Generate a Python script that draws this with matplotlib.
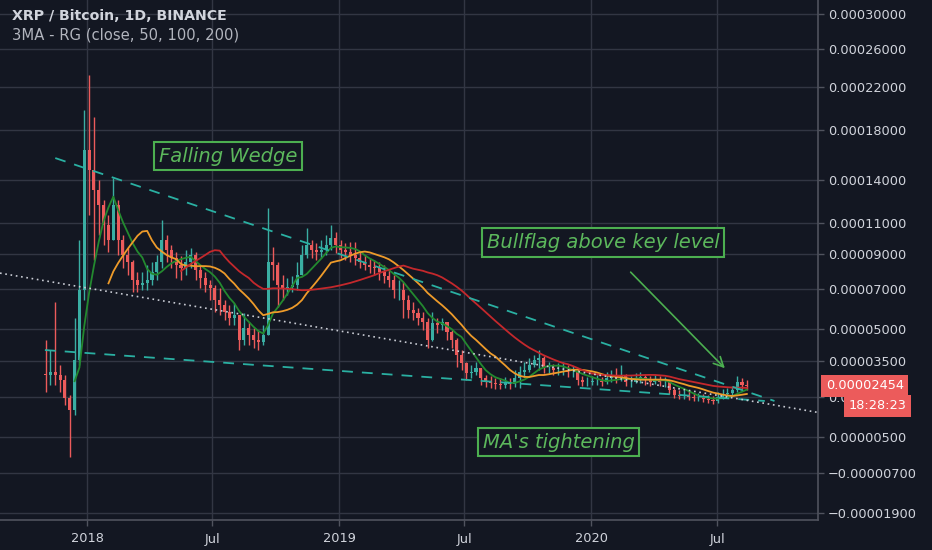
import numpy as np
import pandas as pd
import matplotlib
matplotlib.use("Agg")
import matplotlib.pyplot as plt
import matplotlib.dates as mdates
import matplotlib.transforms as mtransforms
from matplotlib.ticker import FuncFormatter
from datetime import date, timedelta

SAT = 1e-8  # prices below are in satoshi

# weekly candles (XRP/BTC), week starting monday
first_week = date(2017, 10, 30)
first_open = 2950
close_sat = [2890, 3016, 2890, 2680, 1958, 1490, 3540, 6970, 16350, 14760,
             13260, 12200, 10850, 9880, 12200, 9880, 8970, 8550, 7520, 7245,
             7355, 7520, 7970, 8550, 9880, 9270, 8790, 8375, 8200, 8550,
             8970, 8080, 7630, 7245, 7080, 6430, 6170, 5810, 5510, 5660,
             4450, 5020, 4685, 4450, 4360, 4685, 8550, 8375, 7245, 7080,
             7135, 7245, 7800, 8970, 9575, 9270, 9150, 9270, 9575, 10010,
             9575, 9270, 9150, 8970, 8790, 8550, 8375, 8255, 8200, 7970,
             7745, 7520, 6970, 6970, 6430, 5910, 5760, 5510, 5310, 4450,
             5260, 5165, 5310, 4825, 4450, 3765, 3408, 2974, 3016, 3191,
             2764, 2598, 2557, 2516, 2475, 2557, 2516, 2764, 3016, 3100,
             3320, 3540, 3630, 3191, 3191, 3100, 3100, 3100, 3016, 3016,
             2680, 2598, 2598, 2639, 2639, 2598, 2764, 2848, 2764, 2890,
             2598, 2598, 2764, 2806, 2680, 2598, 2680, 2598, 2598, 2270,
             2075, 2036, 2036, 1997, 1958, 1958, 1919, 1880, 1841, 1997,
             2114, 2153, 2270, 2598, 2475, 2454]
high_sat = [4450, 3990, 6330, 3320, 2890, 2075, 5510, 9880, 19820, 23200,
            19180, 14010, 12550, 11510, 14160, 12550, 10200, 9390, 8670, 7970,
            7970, 8375, 8550, 8970, 11180, 10200, 9575, 9150, 8910, 9270,
            9390, 9150, 8375, 7970, 7520, 7245, 7080, 6430, 6170, 6275,
            5660, 5760, 5310, 5020, 4920, 5165, 11990, 9450, 8550, 7800,
            7630, 7745, 8550, 9575, 10650, 9880, 9700, 9880, 10200, 10850,
            10390, 9880, 9700, 9760, 9760, 9150, 8970, 8790, 8670, 8550,
            8375, 8080, 7800, 7520, 7410, 6700, 6325, 6015, 5810, 5510,
            5810, 5510, 5510, 5310, 4920, 4545, 3990, 3452, 3320, 3452,
            3191, 2890, 2848, 2764, 2764, 2806, 2764, 3100, 3277, 3452,
            3630, 3765, 3990, 3700, 3452, 3364, 3408, 3452, 3320, 3277,
            3191, 2848, 2806, 2848, 2890, 2806, 3016, 3100, 3191, 3320,
            2932, 2848, 2974, 3016, 2890, 2848, 2890, 2848, 2806, 2680,
            2352, 2270, 2270, 2231, 2153, 2153, 2114, 2075, 2036, 2192,
            2311, 2352, 2434, 2848, 2764, 2680]
low_sat = [2192, 2475, 2475, 2192, 1685, -180, 1300, 3320, 6430, 11510,
           8670, 10200, 9575, 9150, 9880, 8970, 8200, 7800, 6860, 6860,
           6970, 6970, 7245, 7520, 8200, 8550, 8200, 7630, 7520, 7800,
           8200, 7520, 7080, 6860, 6430, 5810, 5660, 5410, 5165, 5165,
           3990, 4220, 4220, 4080, 3990, 4220, 4685, 7520, 6065, 6430,
           6700, 6860, 6970, 7800, 8790, 8790, 8670, 8790, 8970, 9270,
           9090, 8790, 8670, 8550, 8375, 8200, 8080, 7910, 7800, 7520,
           7355, 7135, 6540, 6430, 5510, 5510, 5410, 5165, 4920, 4080,
           4400, 4780, 4920, 4450, 4080, 3234, 3100, 2680, 2764, 2890,
           2475, 2393, 2352, 2311, 2311, 2352, 2311, 2393, 2352, 2806,
           3016, 3234, 3100, 2974, 2974, 2890, 2890, 2890, 2806, 2806,
           2475, 2434, 2434, 2475, 2475, 2434, 2516, 2598, 2557, 2639,
           2434, 2393, 2557, 2557, 2475, 2434, 2516, 2434, 2393, 2114,
           1958, 1919, 1919, 1880, 1841, 1841, 1802, 1763, 1724, 1763,
           1919, 1997, 2036, 2192, 2311, 2270]

ma_days = [50, 100, 200]
ma_colors = ['#23892f', '#ee9b2a', '#c4282c']

price_ticks = [0.0003, 0.00026, 0.00022, 0.00018, 0.00014, 0.00011, 0.00009,
               0.00007, 0.00005, 0.000035, 0.00002, 0.000005, -0.000007, -0.000019]
date_ticks = [date(2018, 1, 1), date(2018, 7, 1), date(2019, 1, 1),
              date(2019, 7, 1), date(2020, 1, 1), date(2020, 7, 1)]
date_labels = ['2018', 'Jul', '2019', 'Jul', '2020', 'Jul']

# hand drawn lines on the chart (date, price in sat)
wedge_top = [(date(2017, 11, 16), 15700), (date(2020, 9, 22), 1841)]
wedge_bottom = [(date(2017, 11, 1), 3990), (date(2020, 9, 8), 1841)]
dotted_support = [(date(2017, 8, 28), 7910), (date(2020, 11, 24), 1400)]
arrow_from = (date(2020, 2, 24), 8080)
arrow_to = (date(2020, 7, 15), 3100)

current_price = 0.00002454
countdown = '18:28:23'

BG = '#131722'
GRID = '#323643'
TXT = '#d1d4dc'
UP = '#3aaea3'
DOWN = '#ec5b5b'
NOTE = '#4caf50'

# TradingView-like log scale with an offset
C = 0.000115
def fwd(v):
    return np.log(np.clip(np.asarray(v, dtype=float) + C, 1e-9, None))
def inv(z):
    return np.exp(z) - C

fig = plt.figure(figsize=(9.32, 5.5), dpi=100, facecolor=BG)
ax = fig.add_axes([0, 30 / 550, 818 / 932, 520 / 550], facecolor=BG)
ax.set_yscale('function', functions=(fwd, inv))

close = np.array(close_sat) * SAT
high = np.array(high_sat) * SAT
low = np.array(low_sat) * SAT
opn = np.r_[first_open * SAT, close[:-1]]
high = np.maximum(high, np.maximum(opn, close))
low = np.minimum(low, np.minimum(opn, close))
xs = mdates.date2num([first_week + timedelta(days=7 * i + 3.5) for i in range(len(close))])
cols = np.where(close >= opn, UP, DOWN)

ax.vlines(xs, low, high, colors=cols, lw=1.0, zorder=3)
ax.bar(xs, close - opn, bottom=opn, width=4.4, color=cols, lw=0, zorder=3)

# moving averages of close
s = pd.Series(close)
for d, c in zip(ma_days, ma_colors):
    ma = s.rolling(int(round(d / 7))).mean()
    ax.plot(xs, ma, color=c, lw=1.3, zorder=4)

# wedge + support
for line in (wedge_top, wedge_bottom):
    ax.plot(mdates.date2num([p[0] for p in line]), [p[1] * SAT for p in line],
            color='#2ab0a2', lw=1.3, ls=(0, (6, 5)), zorder=5)
ax.plot(mdates.date2num([p[0] for p in dotted_support]),
        [p[1] * SAT for p in dotted_support],
        color='#c9ccd4', lw=1.2, ls=(0, (1, 2.2)), zorder=5)

ax.annotate('', xy=(mdates.date2num(arrow_to[0]), arrow_to[1] * SAT),
            xytext=(mdates.date2num(arrow_from[0]), arrow_from[1] * SAT),
            arrowprops=dict(arrowstyle='->,head_length=0.7,head_width=0.35',
                            color=NOTE, lw=1.2), zorder=6)

box = dict(boxstyle='square,pad=0.25', fc=BG, ec=NOTE, lw=1.5)
notes = [('Falling Wedge', 0.279, 0.700),
         ('Bullflag above key level', 0.737, 0.533),
         ("MA's tightening", 0.683, 0.150)]
for t, nx, ny in notes:
    ax.text(nx, ny, t, transform=ax.transAxes, ha='center', va='center',
            fontsize=14, style='italic', color='#5cb85c', bbox=box, zorder=7)

ax.set_xlim(mdates.date2num(date(2017, 8, 28)), mdates.date2num(date(2020, 11, 24)))
ax.set_ylim(-0.0000209, 0.0003174)

ax.yaxis.tick_right()
ax.set_yticks(price_ticks)
ax.yaxis.set_major_formatter(FuncFormatter(lambda v, _: f'{v:.8f}'.replace('-', '\u2212')))
ax.yaxis.set_minor_locator(matplotlib.ticker.NullLocator())
ax.set_xticks(mdates.date2num(date_ticks))
ax.set_xticklabels(date_labels)
ax.tick_params(colors='#50535e', labelcolor=TXT, labelsize=9.3, length=4, width=1)
ax.tick_params(axis='y', pad=3)
ax.tick_params(axis='x', pad=5)
ax.grid(True, color=GRID, lw=1)
ax.set_axisbelow(True)
for side in ('top', 'left'):
    ax.spines[side].set_visible(False)
for side in ('right', 'bottom'):
    ax.spines[side].set_color('#50535e')
    ax.spines[side].set_linewidth(1.2)

ax.text(0.0147, 0.969, 'XRP / Bitcoin, 1D, BINANCE', transform=ax.transAxes,
        va='center', fontsize=10.2, fontweight='bold', color=TXT, zorder=8)
ax.text(0.0147, 0.933, '3MA - RG (close, 50, 100, 200)', transform=ax.transAxes,
        va='center', fontsize=10.6, color='#b2b5be', zorder=8)

blend = mtransforms.blended_transform_factory(ax.transAxes, ax.transData)
ax.annotate(f'{current_price:.8f}', xy=(1, current_price), xycoords=blend,
            xytext=(5.5, 0), textcoords='offset points', ha='left', va='center',
            fontsize=9.3, color='white', annotation_clip=False, zorder=10,
            bbox=dict(boxstyle='square,pad=0.35', fc=DOWN, ec='none'))
ax.annotate(countdown, xy=(1, current_price), xycoords=blend,
            xytext=(22, -14.5), textcoords='offset points', ha='left', va='center',
            fontsize=9.3, color='white', annotation_clip=False, zorder=10,
            bbox=dict(boxstyle='square,pad=0.35', fc=DOWN, ec='none'))

fig.savefig('out.png', dpi=100, facecolor=BG)
